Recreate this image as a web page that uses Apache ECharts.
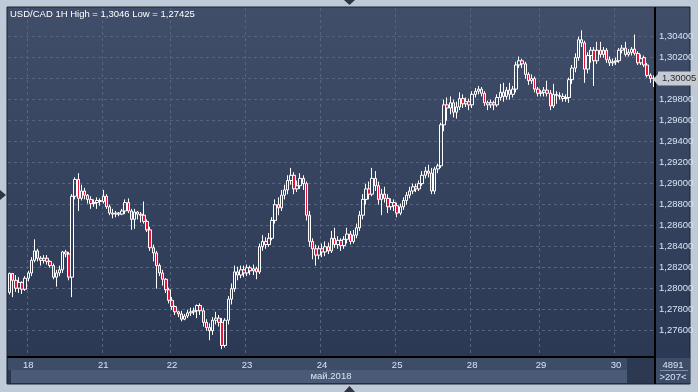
<!DOCTYPE html>
<html><head><meta charset="utf-8">
<script src="https://cdn.jsdelivr.net/npm/echarts@6/dist/echarts.min.js"></script>
<style>html,body{margin:0;padding:0;background:#bfcad8}#c{width:698px;height:392px}</style>
</head><body><div id="c"></div>
<script>
const openValues = [
1.27965,1.28145,1.28080,1.28005,1.28060,1.27995,1.28100,1.28150,1.28270,1.28360,
1.28290,1.28270,1.28290,1.28260,1.28220,1.28110,1.28150,1.28180,1.28350,1.28330,
1.28110,1.28880,1.29040,1.28860,1.28930,1.28890,1.28850,1.28810,1.28820,1.28840,
1.28830,1.28880,1.28780,1.28720,1.28710,1.28720,1.28710,1.28740,1.28820,1.28740,
1.28660,1.28730,1.28710,1.28700,1.28640,1.28560,1.28390,1.28340,1.28220,1.28150,
1.28090,1.27990,1.27890,1.27830,1.27780,1.27760,1.27710,1.27740,1.27770,1.27780,
1.27790,1.27840,1.27790,1.27680,1.27630,1.27600,1.27700,1.27720,1.27680,1.27460,
1.27700,1.27900,1.28000,1.28160,1.28130,1.28180,1.28150,1.28200,1.28170,1.28190,
1.28160,1.28400,1.28450,1.28420,1.28480,1.28650,1.28800,1.28770,1.28890,1.28940,
1.29030,1.29080,1.28950,1.28980,1.29050,1.29000,1.28700,1.28450,1.28380,1.28320,
1.28380,1.28350,1.28400,1.28360,1.28480,1.28420,1.28460,1.28410,1.28470,1.28520,
1.28450,1.28510,1.28580,1.28700,1.28850,1.28950,1.28900,1.29050,1.28980,1.28850,
1.28900,1.28860,1.28780,1.28820,1.28790,1.28720,1.28780,1.28840,1.28890,1.28930,
1.28970,1.28950,1.29000,1.29080,1.29120,1.29100,1.28930,1.29140,1.29170,1.29560,
1.29750,1.29720,1.29770,1.29680,1.29730,1.29810,1.29760,1.29780,1.29750,1.29850,
1.29880,1.29900,1.29860,1.29770,1.29750,1.29770,1.29750,1.29820,1.29870,1.29830,
1.29890,1.29850,1.29900,1.30130,1.30170,1.30140,1.30040,1.29980,1.30000,1.29900,
1.29860,1.29870,1.29890,1.29860,1.29740,1.29850,1.29840,1.29830,1.29810,1.29820,
1.29990,1.30100,1.30200,1.30370,1.30340,1.30090,1.30220,1.30270,1.30170,1.30270,
1.30230,1.30270,1.30180,1.30150,1.30160,1.30170,1.30270,1.30290,1.30230,1.30250,
1.30280,1.30240,1.30150,1.30200,1.30130,1.30030,1.30000];
const closeValues = [
1.28145,1.28080,1.28005,1.28060,1.27995,1.28100,1.28150,1.28270,1.28360,1.28290,
1.28270,1.28290,1.28260,1.28220,1.28110,1.28150,1.28180,1.28350,1.28330,1.28110,
1.28880,1.29040,1.28860,1.28930,1.28890,1.28850,1.28810,1.28820,1.28840,1.28830,
1.28880,1.28780,1.28720,1.28710,1.28720,1.28710,1.28740,1.28820,1.28740,1.28660,
1.28730,1.28710,1.28700,1.28640,1.28560,1.28390,1.28340,1.28220,1.28150,1.28090,
1.27990,1.27890,1.27830,1.27780,1.27760,1.27710,1.27740,1.27770,1.27780,1.27790,
1.27840,1.27790,1.27680,1.27630,1.27600,1.27700,1.27720,1.27680,1.27460,1.27700,
1.27900,1.28000,1.28160,1.28130,1.28180,1.28150,1.28200,1.28170,1.28190,1.28160,
1.28400,1.28450,1.28420,1.28480,1.28650,1.28800,1.28770,1.28890,1.28940,1.29030,
1.29080,1.28950,1.28980,1.29050,1.29000,1.28700,1.28450,1.28380,1.28320,1.28380,
1.28350,1.28400,1.28360,1.28480,1.28420,1.28460,1.28410,1.28470,1.28520,1.28450,
1.28510,1.28580,1.28700,1.28850,1.28950,1.28900,1.29050,1.28980,1.28850,1.28900,
1.28860,1.28780,1.28820,1.28790,1.28720,1.28780,1.28840,1.28890,1.28930,1.28970,
1.28950,1.29000,1.29080,1.29120,1.29100,1.28930,1.29140,1.29170,1.29560,1.29750,
1.29720,1.29770,1.29680,1.29730,1.29810,1.29760,1.29780,1.29750,1.29850,1.29880,
1.29900,1.29860,1.29770,1.29750,1.29770,1.29750,1.29820,1.29870,1.29830,1.29890,
1.29850,1.29900,1.30130,1.30170,1.30140,1.30040,1.29980,1.30000,1.29900,1.29860,
1.29870,1.29890,1.29860,1.29740,1.29850,1.29840,1.29830,1.29810,1.29820,1.29990,
1.30100,1.30200,1.30370,1.30340,1.30090,1.30220,1.30270,1.30170,1.30270,1.30230,
1.30270,1.30180,1.30150,1.30160,1.30170,1.30270,1.30290,1.30230,1.30250,1.30280,
1.30240,1.30150,1.30190,1.30130,1.30030,1.30000,1.30005];
const lowValues = [
1.27945,1.27920,1.27970,1.27960,1.27950,1.27980,1.28070,1.28120,1.28250,1.28260,
1.28220,1.28240,1.28230,1.28200,1.28090,1.28020,1.28120,1.28150,1.28300,1.28080,
1.27920,1.28850,1.28740,1.28840,1.28850,1.28810,1.28760,1.28780,1.28760,1.28790,
1.28810,1.28760,1.28700,1.28670,1.28680,1.28690,1.28700,1.28710,1.28720,1.28560,
1.28570,1.28660,1.28630,1.28620,1.28540,1.28360,1.28260,1.28000,1.28120,1.28030,
1.27960,1.27860,1.27800,1.27750,1.27730,1.27690,1.27700,1.27720,1.27740,1.27750,
1.27720,1.27750,1.27640,1.27600,1.27510,1.27560,1.27660,1.27640,1.27425,1.27440,
1.27660,1.27850,1.27970,1.28080,1.28100,1.28110,1.28120,1.28130,1.28130,1.28090,
1.28140,1.28360,1.28380,1.28400,1.28460,1.28620,1.28700,1.28740,1.28850,1.28900,
1.28990,1.28900,1.28920,1.28950,1.28940,1.28650,1.28400,1.28280,1.28220,1.28280,
1.28300,1.28310,1.28330,1.28340,1.28390,1.28380,1.28360,1.28380,1.28430,1.28420,
1.28430,1.28480,1.28550,1.28660,1.28800,1.28850,1.28880,1.28930,1.28800,1.28700,
1.28820,1.28720,1.28750,1.28740,1.28680,1.28700,1.28750,1.28800,1.28860,1.28900,
1.28920,1.28930,1.28980,1.29050,1.29060,1.28900,1.28900,1.29100,1.29150,1.29500,
1.29600,1.29660,1.29630,1.29620,1.29700,1.29720,1.29730,1.29700,1.29720,1.29820,
1.29850,1.29830,1.29740,1.29700,1.29720,1.29700,1.29730,1.29790,1.29780,1.29800,
1.29800,1.29820,1.29870,1.30100,1.30100,1.30000,1.29940,1.29950,1.29870,1.29830,
1.29830,1.29830,1.29830,1.29700,1.29720,1.29760,1.29800,1.29780,1.29780,1.29770,
1.29950,1.30060,1.30170,1.30300,1.29960,1.30050,1.30150,1.29930,1.30140,1.30200,
1.30200,1.30150,1.30120,1.30120,1.30130,1.30150,1.30240,1.30210,1.30210,1.30220,
1.30220,1.30130,1.30130,1.30110,1.30010,1.29960,1.29920];
const highValues = [
1.28155,1.28150,1.28130,1.28110,1.28070,1.28120,1.28170,1.28300,1.28470,1.28380,
1.28310,1.28320,1.28320,1.28270,1.28240,1.28180,1.28220,1.28360,1.28370,1.28350,
1.28900,1.29060,1.29100,1.28990,1.28960,1.28900,1.28880,1.28850,1.28870,1.28860,
1.28940,1.28900,1.28800,1.28760,1.28740,1.28730,1.28760,1.28850,1.28860,1.28760,
1.28760,1.28740,1.28730,1.28830,1.28660,1.28590,1.28420,1.28360,1.28240,1.28180,
1.28100,1.28010,1.27920,1.27840,1.27790,1.27790,1.27760,1.27800,1.27820,1.27820,
1.27850,1.27860,1.27820,1.27710,1.27670,1.27730,1.27780,1.27750,1.27720,1.27720,
1.27930,1.28050,1.28220,1.28210,1.28220,1.28220,1.28230,1.28220,1.28230,1.28210,
1.28430,1.28510,1.28490,1.28530,1.28680,1.28850,1.28870,1.28940,1.28990,1.29080,
1.29150,1.29110,1.29030,1.29100,1.29080,1.29020,1.28740,1.28480,1.28420,1.28410,
1.28430,1.28450,1.28440,1.28550,1.28580,1.28500,1.28480,1.28500,1.28580,1.28550,
1.28560,1.28620,1.28740,1.28900,1.29000,1.29020,1.29150,1.29120,1.29020,1.28950,
1.28970,1.28900,1.28860,1.28850,1.28820,1.28810,1.28870,1.28920,1.28970,1.29000,
1.29000,1.29030,1.29120,1.29160,1.29180,1.29150,1.29160,1.29190,1.29580,1.29800,
1.29820,1.29830,1.29800,1.29780,1.29870,1.29850,1.29820,1.29810,1.29880,1.29910,
1.29930,1.29920,1.29880,1.29790,1.29800,1.29790,1.29850,1.29950,1.29960,1.29920,
1.29960,1.29930,1.30160,1.30210,1.30190,1.30160,1.30060,1.30040,1.30020,1.29920,
1.29890,1.29920,1.29980,1.29890,1.29950,1.29880,1.29870,1.29860,1.29850,1.30010,
1.30130,1.30240,1.30400,1.30460,1.30360,1.30250,1.30300,1.30300,1.30350,1.30350,
1.30300,1.30290,1.30210,1.30190,1.30200,1.30290,1.30320,1.30350,1.30280,1.30300,
1.30420,1.30260,1.30230,1.30220,1.30150,1.30050,1.30030];
const categories = openValues.map((_, i) => 'h' + i);
const dayStartIndex = [6, 30, 52, 76, 100, 124, 148, 170, 194];
const dayLabels = ['18', '21', '22', '23', '24', '25', '28', '29', '30'];
const priceTicks = [1.276,1.278,1.280,1.282,1.284,1.286,1.288,1.290,1.292,1.294,1.296,1.298,1.300,1.302,1.304];
const lastPrice = 1.30005;
const titleText = 'USD/CAD 1H High = 1,3046 Low = 1,27425';
const monthText = 'май.2018';
const fmt = v => v.toFixed(5).replace('.', ',');

const candleData = openValues.map((o, i) => [o, closeValues[i], lowValues[i], highValues[i]]);
const FONT = '"Liberation Sans", Arial, sans-serif';
const FS = 9.5;
const chart = echarts.init(document.getElementById('c'), null, {renderer: 'canvas'});
chart.setOption({
  animation: false,
  backgroundColor: '#bfcad8',
  textStyle: {fontFamily: FONT},
  title: {text: titleText, left: 10, top: 9, padding: 0, textStyle: {color: '#ffffff', fontSize: FS, fontWeight: 'normal', fontFamily: FONT}},
  grid: {left: 8, right: 43, top: 8, bottom: 35},
  xAxis: {
    type: 'category', data: categories, boundaryGap: true,
    axisLine: {show: true, lineStyle: {color: '#000000', width: 2}},
    axisTick: {show: false},
    axisLabel: {
      interval: (idx) => dayStartIndex.includes(idx),
      formatter: (v, idx) => { const k = dayStartIndex.indexOf(idx); return k >= 0 ? dayLabels[k] : ''; },
      color: '#d8e4f4', fontSize: FS, margin: 3, fontFamily: FONT
    },
    splitLine: {show: true, interval: (idx) => dayStartIndex.includes(idx), lineStyle: {color: '#56647f', type: [3, 3], width: 1}}
  },
  yAxis: {
    type: 'value', position: 'right', min: 1.2735, max: 1.30672, scale: true,
    axisLine: {show: true, lineStyle: {color: '#000000', width: 2}},
    axisTick: {show: false, customValues: priceTicks},
    axisLabel: {customValues: priceTicks, formatter: fmt, color: '#d8e4f4', fontSize: FS, margin: 4, fontFamily: FONT},
    splitLine: {show: true, lineStyle: {color: '#56647f', type: [3, 3], width: 1}}
  },
  series: [{
    type: 'candlestick', data: candleData, barWidth: 3,
    itemStyle: {color: 'rgba(0,0,0,0)', color0: '#e8153b', borderColor: '#ffffff', borderColor0: '#ffffff', borderWidth: 1},
    markLine: {
      silent: true, symbol: ['none', 'none'],
      lineStyle: {color: 'rgba(0,0,0,0)', width: 0},
      label: {show: true, position: 'end', distance: 3, formatter: () => fmt(lastPrice), backgroundColor: '#c6cbd3', color: '#2a2a2a', fontSize: FS, padding: [2, 4, 2, 4], fontFamily: FONT},
      data: [{yAxis: lastPrice}]
    }
  }],
  graphic: [
    {type: 'rect', z: -10, shape: {x: 7, y: 7, width: 683, height: 377}, style: {fill: new echarts.graphic.LinearGradient(0, 0, 0, 1, [{offset: 0, color: '#414e6a'}, {offset: 1, color: '#2a3752'}]), stroke: '#1c2230', lineWidth: 1}},
    {type: 'rect', z: -9, shape: {x: 8, y: 358, width: 647, height: 12}, style: {fill: '#3e4d67'}},
    {type: 'rect', z: -9, shape: {x: 11, y: 370, width: 616, height: 13}, style: {fill: '#4b5b77'}},
    {type: 'rect', z: -8, shape: {x: 627, y: 358, width: 28, height: 25}, style: {fill: '#2c3951'}},
    {type: 'rect', z: -9, shape: {x: 656, y: 358, width: 34, height: 25}, style: {fill: '#3e4d67'}},
    {type: 'line', z: 5, shape: {x1: 655, y1: 356, x2: 655, y2: 384}, style: {stroke: '#000000', lineWidth: 2}},
    {type: 'line', z: 5, shape: {x1: 660, y1: 370.5, x2: 688, y2: 370.5}, style: {stroke: '#7d8ca4', lineWidth: 1}},
    {type: 'polygon', z: 20, shape: {points: [[653, 79.5], [658, 74], [658, 85]]}, style: {fill: '#c6cbd3'}},
    {type: 'text', z: 5, style: {text: '4891', x: 673, y: 365, fill: '#d8e4f4', font: FS + 'px "Liberation Sans"', textAlign: 'center', textVerticalAlign: 'middle'}},
    {type: 'text', z: 5, style: {text: '>207<', x: 673, y: 377, fill: '#d8e4f4', font: FS + 'px "Liberation Sans"', textAlign: 'center', textVerticalAlign: 'middle'}},
    {type: 'text', z: 5, style: {text: monthText, x: 331, y: 376.5, fill: '#d8e4f4', font: FS + 'px "Liberation Sans"', textAlign: 'center', textVerticalAlign: 'middle'}},
    {type: 'polygon', z: 5, shape: {points: [[344, 0], [355, 0], [349.5, 5]]}, style: {fill: '#2e3444'}},
    {type: 'polygon', z: 5, shape: {points: [[344, 392], [355, 392], [349.5, 386]]}, style: {fill: '#2e3444'}},
    {type: 'polygon', z: 5, shape: {points: [[0, 190], [0, 200], [6, 195]]}, style: {fill: '#2e3444'}}
  ]
});
</script></body></html>
